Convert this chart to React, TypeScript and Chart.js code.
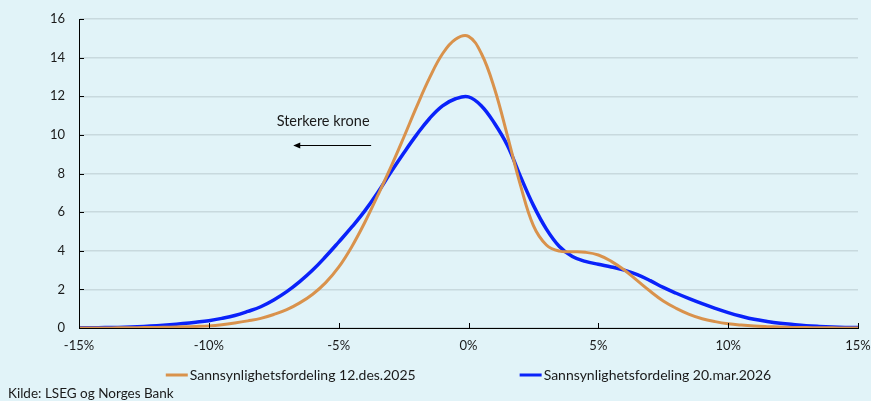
import React, { useEffect, useRef } from "react";
import { Chart, registerables } from "chart.js";

Chart.register(...registerables);

const xValues = [
  -15, -14.5, -14, -13.5, -13, -12.5, -12, -11.5, -11, -10.5, -10, -9.5, -9, -8.5, -8, -7.5, -7, -6.5, -6, -5.5,
  -5, -4.5, -4, -3.5, -3, -2.5, -2, -1.5, -1, -0.5, 0, 0.5, 1, 1.5, 2, 2.5, 3, 3.5, 4, 4.5,
  5, 5.5, 6, 6.5, 7, 7.5, 8, 8.5, 9, 9.5, 10, 10.5, 11, 11.5, 12, 12.5, 13, 13.5, 14, 14.5, 15,
];

const dec2025 = [
  0, 0, 0, 0.01, 0.01, 0.02, 0.03, 0.04, 0.06, 0.08, 0.11, 0.17, 0.26, 0.37, 0.5, 0.7, 0.95, 1.3, 1.75, 2.35,
  3.15, 4.2, 5.45, 6.85, 8.3, 9.85, 11.45, 12.95, 14.2, 14.95, 15.1, 14.2, 12.4, 9.95, 7.4, 5.3, 4.3, 3.98, 3.95, 3.92,
  3.78, 3.45, 3.0, 2.45, 1.9, 1.4, 1.02, 0.71, 0.48, 0.33, 0.22, 0.15, 0.1, 0.07, 0.05, 0.03, 0.02, 0.01, 0.01, 0, 0,
];

const mar2026 = [
  0.01, 0.01, 0.02, 0.03, 0.05, 0.08, 0.12, 0.17, 0.23, 0.3, 0.38, 0.5, 0.65, 0.86, 1.1, 1.45, 1.88, 2.4, 3.0, 3.7,
  4.45, 5.22, 6.05, 7.0, 8.05, 9.05, 10.0, 10.85, 11.5, 11.87, 11.97, 11.5, 10.6, 9.45, 7.85, 6.35, 5.12, 4.22, 3.7, 3.45,
  3.3, 3.16, 3.0, 2.76, 2.45, 2.1, 1.8, 1.52, 1.26, 1.02, 0.8, 0.61, 0.45, 0.34, 0.25, 0.18, 0.12, 0.08, 0.05, 0.03, 0.02,
];

const seriesLabels = ["Sannsynlighetsfordeling 12.des.2025", "Sannsynlighetsfordeling 20.mar.2026"];
const seriesColors = ["#D9924C", "#0A22FA"];
const annotationText = "Sterkere krone";
const sourceText = "Kilde: LSEG og Norges Bank";

const FONT = "Lato, 'Open Sans', sans-serif";
const TEXT = "#1a1a1a";

export default function App() {
  const ref = useRef<HTMLCanvasElement | null>(null);

  useEffect(() => {
    document.body.style.margin = "0";
    const canvas = ref.current;
    if (!canvas) return;

    const decorPlugin = {
      id: "decor",
      beforeDraw(chart: any) {
        const ctx = chart.ctx;
        ctx.save();
        ctx.fillStyle = "#E1F3F8";
        ctx.fillRect(0, 0, chart.width, chart.height);
        ctx.restore();
      },
      afterDraw(chart: any) {
        const ctx = chart.ctx;
        const xs = chart.scales.x;
        const ys = chart.scales.y;
        const area = chart.chartArea;
        ctx.save();
        ctx.strokeStyle = "#000";
        ctx.lineWidth = 1;
        ys.ticks.forEach((t: any) => {
          const y = Math.round(ys.getPixelForValue(t.value)) + 0.5;
          ctx.beginPath();
          ctx.moveTo(area.left, y);
          ctx.lineTo(area.left + 5, y);
          ctx.stroke();
        });
        xs.ticks.forEach((t: any) => {
          const x = Math.round(xs.getPixelForValue(t.value)) + 0.5;
          ctx.beginPath();
          ctx.moveTo(x, area.bottom);
          ctx.lineTo(x, area.bottom - 5);
          ctx.stroke();
        });
        // annotation
        ctx.fillStyle = TEXT;
        ctx.font = `14.5px ${FONT}`;
        ctx.textAlign = "center";
        ctx.textBaseline = "middle";
        ctx.fillText(annotationText, xs.getPixelForValue(-5.6), ys.getPixelForValue(10.7));
        const ay = Math.round(ys.getPixelForValue(9.5)) + 0.5;
        const ax1 = xs.getPixelForValue(-3.75);
        const ax2 = xs.getPixelForValue(-6.75);
        ctx.strokeStyle = "#000";
        ctx.lineWidth = 1;
        ctx.beginPath();
        ctx.moveTo(ax1, ay);
        ctx.lineTo(ax2 + 4, ay);
        ctx.stroke();
        ctx.fillStyle = "#000";
        ctx.beginPath();
        ctx.moveTo(ax2, ay);
        ctx.lineTo(ax2 + 7, ay - 3);
        ctx.lineTo(ax2 + 7, ay + 3);
        ctx.closePath();
        ctx.fill();
        // legend
        ctx.font = `14px ${FONT}`;
        ctx.textAlign = "left";
        ctx.textBaseline = "middle";
        const ly = 375;
        const lineW = 22;
        const gap = 2;
        const between = 104;
        const widths = seriesLabels.map((l) => lineW + gap + ctx.measureText(l).width);
        const total = widths[0] + widths[1] + between;
        let lx = (area.left + area.right) / 2 - total / 2;
        seriesLabels.forEach((l, i) => {
          ctx.strokeStyle = seriesColors[i];
          ctx.lineWidth = 3;
          ctx.beginPath();
          ctx.moveTo(lx, ly);
          ctx.lineTo(lx + lineW, ly);
          ctx.stroke();
          ctx.fillStyle = TEXT;
          ctx.fillText(l, lx + lineW + gap, ly);
          lx += widths[i] + between;
        });
        // source
        ctx.font = `13.5px ${FONT}`;
        ctx.fillText(sourceText, 8, 394);
        ctx.restore();
      },
    };

    const chart = new Chart(canvas, {
      type: "line",
      data: {
        datasets: [
          {
            label: seriesLabels[0],
            data: xValues.map((x, i) => ({ x, y: dec2025[i] })),
            borderColor: seriesColors[0],
            backgroundColor: seriesColors[0],
            borderWidth: 3,
            pointRadius: 0,
            tension: 0.4,
          },
          {
            label: seriesLabels[1],
            data: xValues.map((x, i) => ({ x, y: mar2026[i] })),
            borderColor: seriesColors[1],
            backgroundColor: seriesColors[1],
            borderWidth: 3.5,
            pointRadius: 0,
            tension: 0.4,
          },
        ],
      },
      options: {
        animation: false,
        responsive: false,
        maintainAspectRatio: false,
        layout: { padding: { left: 8, right: 13, top: 19, bottom: 43 } },
        plugins: {
          legend: { display: false },
          tooltip: { enabled: false },
        },
        scales: {
          x: {
            type: "linear",
            min: -15,
            max: 15,
            ticks: {
              stepSize: 5,
              color: TEXT,
              font: { family: FONT, size: 13 },
              padding: 10,
              maxRotation: 0,
              callback: (v: any) => `${v}%`,
            },
            grid: { display: false, drawTicks: false },
            border: { display: true, color: "#000", width: 1 },
            afterFit: (s: any) => {
              s.height = 30;
              s.paddingLeft = 0;
              s.paddingRight = 0;
            },
          },
          y: {
            min: 0,
            max: 16,
            ticks: {
              stepSize: 2,
              color: TEXT,
              font: { family: FONT, size: 13 },
              padding: 14,
            },
            grid: { color: "#C8D9DE", lineWidth: 1.5, drawTicks: false },
            border: { display: true, color: "#000", width: 1 },
            afterFit: (s: any) => {
              s.width = 71;
              s.paddingTop = 0;
              s.paddingBottom = 0;
            },
          },
        },
      },
      plugins: [decorPlugin],
    } as any);

    return () => chart.destroy();
  }, []);

  return (
    <div style={{ width: 871, height: 401 }}>
      <canvas ref={ref} width={871} height={401} style={{ display: "block", width: 871, height: 401 }} />
    </div>
  );
}
